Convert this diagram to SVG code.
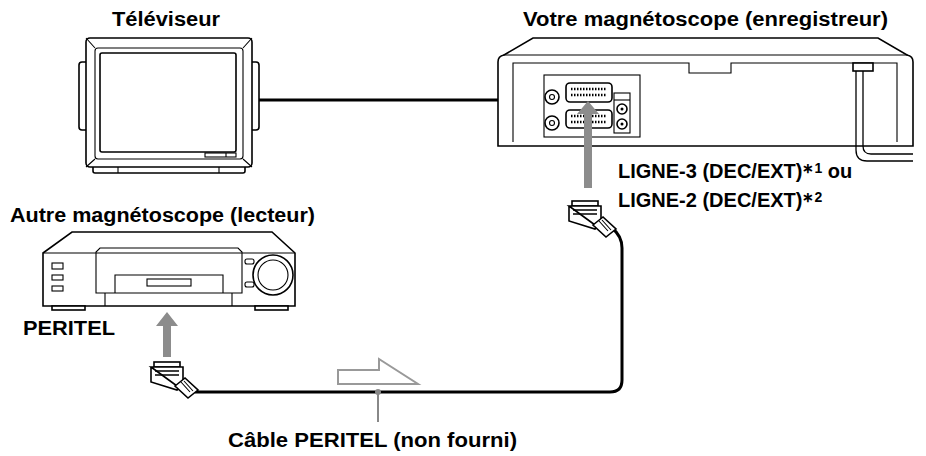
<svg xmlns="http://www.w3.org/2000/svg" width="926" height="456" viewBox="0 0 926 456">
<style>
.t{font-family:"Liberation Sans",Arial,sans-serif;font-weight:bold;font-size:20px;fill:#000}
.o{fill:#fff;stroke:#000;stroke-width:1.6}
.th{fill:none;stroke:#000;stroke-width:1.1}
.cab{fill:none;stroke:#000;stroke-width:3}
.g{fill:#8c8c8c}
</style>
<rect width="926" height="456" fill="#fff"/>
<g id="tv">
<text class="t" x="112" y="26" textLength="108" lengthAdjust="spacingAndGlyphs">Téléviseur</text>
<rect class="o" x="79" y="62" width="10" height="68" rx="3"/>
<rect class="o" x="249" y="62" width="10" height="68" rx="3"/>
<rect class="o" x="93" y="164" width="152" height="9" rx="2"/>
<path class="th" d="M118 164v9M219 164v9"/>
<rect class="o" x="86" y="38" width="166" height="129" rx="4"/>
<rect class="th" x="95" y="48" width="148" height="111" rx="3"/>
<rect class="o" x="100" y="53" width="136" height="99" rx="2"/>
<path class="th" d="M86 38 L95 48 M252 38 L243 48 M86 167 L95 159 M252 167 L243 159"/>
<rect class="th" x="205" y="153" width="31" height="4"/>
<path class="th" d="M226 153v4"/>
</g>
<g id="recorder">
<text class="t" x="523" y="26" textLength="365" lengthAdjust="spacingAndGlyphs">Votre magnétoscope (enregistreur)</text>
<path class="o" d="M498 146 L498 62 Q498 56 504 55 L533 38 L878 38 L907 55 Q913 56 913 62 L913 146 Z"/>
<path class="th" d="M503 55 L908 55"/>
<path class="th" d="M513 142 L513 63 L689 63 L689 73 L731 73 L731 63 L897 63 L897 142"/>
<rect class="th" x="544" y="75" width="96" height="62"/>
<rect class="o" x="566" y="83" width="46" height="19" rx="4"/>
<rect class="o" x="566" y="110" width="46" height="18" rx="4"/>
<path d="M571 89h36M571 95h36M571 116h36M571 122h36" stroke="#000" stroke-width="2.5" stroke-dasharray="1.5 1.5"/>
<circle class="o" cx="552" cy="97" r="7"/><circle class="th" cx="552" cy="97" r="2.5"/>
<circle class="o" cx="552" cy="123" r="7"/><circle class="th" cx="552" cy="123" r="2.5"/>
<rect class="th" x="614" y="93" width="16" height="40"/>
<path class="th" d="M614 100h16"/>
<circle class="o" cx="622" cy="109" r="5"/><circle cx="622" cy="109" r="1.5"/>
<circle class="o" cx="622" cy="124" r="5"/><circle cx="622" cy="124" r="1.5"/>
<rect class="o" x="853" y="63" width="20" height="8"/>
</g>
<g id="player">
<text class="t" x="10" y="222" textLength="305" lengthAdjust="spacingAndGlyphs">Autre magnétoscope (lecteur)</text>
<path class="o" d="M43 306 L43 253 L72 232 L272 232 L295 253 L295 306 Z"/>
<path class="th" d="M43 253 L295 253"/>
<rect class="o" x="52" y="306" width="33" height="4"/>
<rect class="o" x="255" y="306" width="33" height="4"/>
<path class="th" d="M96 293 L96 252 L100 248 L238 248 L242 252 L242 293 Z M105 293 L105 306 M232 293 L232 306 M115 293 L115 275 L223 275 L223 293"/>
<rect class="th" x="147" y="279" width="44" height="7"/>
<rect class="th" x="52" y="263" width="11" height="6"/><rect class="th" x="52" y="275" width="11" height="5"/><rect class="th" x="52" y="286" width="11" height="5"/>
<rect class="th" x="245" y="259" width="9" height="5" rx="2"/><rect class="th" x="245" y="282" width="9" height="5" rx="2"/>
<circle class="o" cx="273" cy="275" r="20"/><circle class="th" cx="273" cy="275" r="15"/>
<text class="t" x="23" y="335" textLength="92" lengthAdjust="spacingAndGlyphs">PERITEL</text>
</g>
<g id="connectors">
<path class="cab" d="M259 100 L498 100"/>
<path d="M856 71 L856 150 Q856 161 867 161 L913 161" fill="none" stroke="#000" stroke-width="1.3"/>
<path d="M863 71 L863 146 Q863 154 871 154 L913 154" fill="none" stroke="#000" stroke-width="1.3"/>
<path class="cab" d="M612 228 Q622 236 622 248 L622 380 Q622 392 610 392 L195 392"/>
<path class="g" d="M584 188 L584 114 L577 114 L588 101 L599 114 L592 114 L592 188 Z"/>
<path class="g" d="M163 357 L163 326 L156 326 L167 312 L178 326 L171 326 L171 357 Z"/>
<path d="M338 370 L379 370 L379 359 L418 384 L338 384 Z" fill="none" stroke="#999" stroke-width="2"/>
<path d="M378 392 L378 422" stroke="#888" stroke-width="2"/>
<circle cx="378" cy="392" r="3" fill="#888"/>
<g transform="translate(569 201)">
<rect class="o" x="3" y="0" width="26" height="5"/>
<path class="o" d="M0 5 L32 5 L32 22 L26 24 Z M0 5 L0 20 L26 28 L32 22"/>
<path d="M4 9h24M4 13h24" stroke="#000" stroke-width="1.5"/>
<path class="o" d="M24 24 L34 16 L47 28 L37 36 Z"/>
<path class="th" d="M30 20l9 10M33 19l9 10"/>
</g>
<g transform="translate(151 362)">
<rect class="o" x="3" y="0" width="26" height="5"/>
<path class="o" d="M0 5 L32 5 L32 22 L26 24 Z M0 5 L0 20 L26 28 L32 22"/>
<path d="M4 9h24M4 13h24" stroke="#000" stroke-width="1.5"/>
<path class="o" d="M24 24 L34 16 L47 28 L37 36 Z"/>
<path class="th" d="M30 20l9 10M33 19l9 10"/>
</g>
<text class="t" x="618" y="178" font-size="21">LIGNE-3 (DEC/EXT)<tspan font-size="14" dy="-5">∗1</tspan><tspan dy="5"> ou</tspan></text>
<text class="t" x="618" y="207" font-size="21">LIGNE-2 (DEC/EXT)<tspan font-size="14" dy="-5">∗2</tspan></text>
<text class="t" x="228" y="447" textLength="289" lengthAdjust="spacingAndGlyphs">Câble PERITEL (non fourni)</text>
</g>
</svg>
